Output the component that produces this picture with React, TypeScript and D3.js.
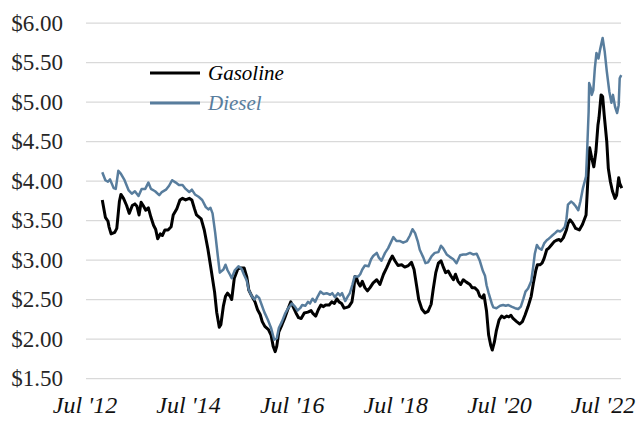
import React from 'react';
import * as d3 from 'd3';

// weekly retail prices, [decimal year, $/gallon]
const gasoline: [number, number][] = [
  [2012.83, 3.76], [2012.89, 3.54], [2012.94, 3.49], [2012.96, 3.42], [2013.0, 3.33], [2013.07, 3.35],
  [2013.11, 3.4], [2013.16, 3.74], [2013.19, 3.83], [2013.24, 3.78], [2013.3, 3.69], [2013.35, 3.59],
  [2013.41, 3.69], [2013.46, 3.71], [2013.5, 3.68], [2013.54, 3.57], [2013.58, 3.73], [2013.62, 3.69],
  [2013.67, 3.63], [2013.72, 3.66], [2013.77, 3.54], [2013.82, 3.44], [2013.86, 3.39], [2013.9, 3.27],
  [2013.95, 3.33], [2013.99, 3.31], [2014.04, 3.38], [2014.1, 3.38], [2014.16, 3.42], [2014.2, 3.57],
  [2014.27, 3.65], [2014.33, 3.76], [2014.38, 3.78], [2014.44, 3.76], [2014.51, 3.78], [2014.56, 3.76],
  [2014.61, 3.65], [2014.65, 3.57], [2014.74, 3.52], [2014.8, 3.38], [2014.87, 3.14], [2014.93, 2.89],
  [2015.0, 2.59], [2015.04, 2.34], [2015.09, 2.15], [2015.12, 2.18], [2015.17, 2.42], [2015.21, 2.54],
  [2015.25, 2.58], [2015.3, 2.54], [2015.33, 2.5], [2015.38, 2.77], [2015.45, 2.89], [2015.51, 2.9],
  [2015.57, 2.9], [2015.62, 2.79], [2015.66, 2.62], [2015.72, 2.54], [2015.78, 2.47], [2015.83, 2.37],
  [2015.88, 2.31], [2015.92, 2.22], [2015.97, 2.16], [2016.04, 2.12], [2016.09, 2.05], [2016.13, 1.91],
  [2016.17, 1.84], [2016.2, 1.91], [2016.24, 2.09], [2016.3, 2.18], [2016.35, 2.26], [2016.41, 2.37],
  [2016.47, 2.47], [2016.52, 2.4], [2016.57, 2.33], [2016.62, 2.27], [2016.67, 2.26], [2016.73, 2.33],
  [2016.8, 2.34], [2016.86, 2.36], [2016.9, 2.32], [2016.95, 2.29], [2017.0, 2.37], [2017.05, 2.43],
  [2017.1, 2.41], [2017.14, 2.43], [2017.21, 2.43], [2017.26, 2.47], [2017.31, 2.45], [2017.36, 2.51],
  [2017.4, 2.47], [2017.45, 2.45], [2017.5, 2.39], [2017.55, 2.4], [2017.59, 2.41], [2017.65, 2.47],
  [2017.68, 2.6], [2017.71, 2.79], [2017.74, 2.77], [2017.77, 2.71], [2017.81, 2.67], [2017.85, 2.73],
  [2017.9, 2.65], [2017.95, 2.61], [2018.0, 2.65], [2018.06, 2.71], [2018.13, 2.75], [2018.19, 2.69],
  [2018.26, 2.82], [2018.32, 2.9], [2018.38, 2.99], [2018.43, 3.05], [2018.48, 2.99], [2018.54, 2.93],
  [2018.61, 2.94], [2018.67, 2.91], [2018.74, 2.93], [2018.8, 2.97], [2018.85, 2.88], [2018.9, 2.67],
  [2018.94, 2.5], [2019.0, 2.38], [2019.06, 2.33], [2019.12, 2.35], [2019.18, 2.44], [2019.22, 2.63],
  [2019.27, 2.84], [2019.32, 2.96], [2019.37, 2.99], [2019.41, 2.92], [2019.46, 2.84], [2019.51, 2.86],
  [2019.56, 2.8], [2019.61, 2.75], [2019.65, 2.82], [2019.7, 2.73], [2019.75, 2.69], [2019.8, 2.75],
  [2019.86, 2.72], [2019.93, 2.69], [2019.97, 2.65], [2020.02, 2.65], [2020.08, 2.61], [2020.12, 2.54],
  [2020.17, 2.52], [2020.2, 2.56], [2020.25, 2.35], [2020.29, 2.05], [2020.33, 1.92], [2020.36, 1.86],
  [2020.4, 1.96], [2020.44, 2.11], [2020.49, 2.24], [2020.54, 2.29], [2020.59, 2.27], [2020.64, 2.29],
  [2020.68, 2.28], [2020.72, 2.3], [2020.76, 2.26], [2020.83, 2.22], [2020.89, 2.19], [2020.94, 2.22],
  [2020.99, 2.3], [2021.05, 2.41], [2021.11, 2.54], [2021.15, 2.7], [2021.2, 2.87], [2021.23, 2.94],
  [2021.28, 2.94], [2021.32, 2.96], [2021.36, 3.02], [2021.41, 3.13], [2021.45, 3.15], [2021.5, 3.19],
  [2021.55, 3.23], [2021.6, 3.25], [2021.65, 3.26], [2021.68, 3.24], [2021.73, 3.28], [2021.79, 3.38],
  [2021.82, 3.46], [2021.86, 3.51], [2021.91, 3.47], [2021.97, 3.4], [2022.04, 3.38], [2022.1, 3.45],
  [2022.17, 3.57], [2022.21, 4.08], [2022.24, 4.42], [2022.28, 4.29], [2022.32, 4.18], [2022.36, 4.37],
  [2022.4, 4.71], [2022.42, 4.8], [2022.46, 5.09], [2022.49, 5.07], [2022.52, 4.84], [2022.57, 4.5],
  [2022.6, 4.16], [2022.64, 3.99], [2022.68, 3.87], [2022.73, 3.78], [2022.76, 3.82], [2022.8, 4.04],
  [2022.82, 3.97], [2022.86, 3.91],
];

const diesel: [number, number][] = [
  [2012.83, 4.11], [2012.89, 4.01], [2012.94, 3.99], [2012.98, 4.02], [2013.05, 3.91], [2013.09, 3.9],
  [2013.14, 4.13], [2013.19, 4.09], [2013.26, 4.01], [2013.34, 3.88], [2013.4, 3.84], [2013.46, 3.87],
  [2013.53, 3.81], [2013.59, 3.9], [2013.66, 3.9], [2013.72, 3.98], [2013.77, 3.9], [2013.85, 3.87],
  [2013.93, 3.82], [2013.98, 3.86], [2014.06, 3.89], [2014.12, 3.94], [2014.18, 4.01], [2014.25, 3.98],
  [2014.31, 3.95], [2014.38, 3.95], [2014.44, 3.9], [2014.51, 3.86], [2014.56, 3.89], [2014.62, 3.83],
  [2014.69, 3.8], [2014.76, 3.76], [2014.83, 3.67], [2014.88, 3.64], [2014.92, 3.66], [2014.96, 3.59],
  [2015.01, 3.35], [2015.06, 3.06], [2015.1, 2.84], [2015.17, 2.88], [2015.21, 2.94], [2015.25, 2.87],
  [2015.3, 2.81], [2015.33, 2.77], [2015.39, 2.87], [2015.46, 2.92], [2015.52, 2.89], [2015.57, 2.81],
  [2015.62, 2.74], [2015.66, 2.62], [2015.72, 2.54], [2015.77, 2.5], [2015.81, 2.55], [2015.86, 2.52],
  [2015.91, 2.43], [2015.96, 2.34], [2016.03, 2.24], [2016.09, 2.14], [2016.15, 1.99], [2016.2, 2.01],
  [2016.24, 2.14], [2016.3, 2.22], [2016.36, 2.32], [2016.42, 2.39], [2016.49, 2.45], [2016.55, 2.41],
  [2016.6, 2.36], [2016.65, 2.39], [2016.69, 2.43], [2016.75, 2.42], [2016.8, 2.47], [2016.84, 2.45],
  [2016.89, 2.51], [2016.94, 2.47], [2016.99, 2.54], [2017.04, 2.6], [2017.1, 2.57], [2017.16, 2.58],
  [2017.23, 2.56], [2017.27, 2.58], [2017.32, 2.53], [2017.38, 2.58], [2017.42, 2.55], [2017.46, 2.58],
  [2017.52, 2.48], [2017.57, 2.54], [2017.61, 2.58], [2017.66, 2.69], [2017.7, 2.79], [2017.74, 2.79],
  [2017.77, 2.79], [2017.81, 2.82], [2017.85, 2.88], [2017.9, 2.93], [2017.97, 2.92], [2018.02, 3.01],
  [2018.06, 3.05], [2018.13, 3.09], [2018.17, 3.03], [2018.22, 2.99], [2018.29, 3.09], [2018.35, 3.15],
  [2018.4, 3.22], [2018.45, 3.29], [2018.51, 3.24], [2018.58, 3.24], [2018.64, 3.22], [2018.71, 3.24],
  [2018.77, 3.31], [2018.82, 3.39], [2018.87, 3.34], [2018.92, 3.24], [2018.96, 3.13], [2019.03, 3.03],
  [2019.07, 2.96], [2019.12, 2.97], [2019.19, 3.05], [2019.25, 3.09], [2019.32, 3.1], [2019.37, 3.18],
  [2019.41, 3.15], [2019.48, 3.07], [2019.54, 3.04], [2019.61, 3.01], [2019.67, 2.96], [2019.74, 3.06],
  [2019.8, 3.07], [2019.86, 3.07], [2019.93, 3.09], [2019.99, 3.07], [2020.06, 3.08], [2020.12, 2.99],
  [2020.18, 2.86], [2020.22, 2.8], [2020.25, 2.68], [2020.29, 2.58], [2020.35, 2.45], [2020.38, 2.4],
  [2020.44, 2.39], [2020.51, 2.42], [2020.57, 2.43], [2020.62, 2.42], [2020.67, 2.43], [2020.73, 2.41],
  [2020.8, 2.39], [2020.86, 2.38], [2020.91, 2.41], [2020.96, 2.51], [2021.0, 2.6], [2021.05, 2.64],
  [2021.11, 2.73], [2021.15, 2.92], [2021.18, 3.08], [2021.22, 3.19], [2021.26, 3.15], [2021.31, 3.13],
  [2021.36, 3.21], [2021.41, 3.25], [2021.45, 3.27], [2021.5, 3.3], [2021.57, 3.34], [2021.62, 3.37],
  [2021.67, 3.36], [2021.71, 3.38], [2021.76, 3.42], [2021.79, 3.51], [2021.82, 3.7], [2021.88, 3.74],
  [2021.92, 3.72], [2021.97, 3.68], [2022.02, 3.63], [2022.06, 3.74], [2022.11, 3.91], [2022.17, 4.06],
  [2022.19, 4.37], [2022.22, 4.88], [2022.23, 5.24], [2022.26, 5.18], [2022.28, 5.09], [2022.31, 5.15],
  [2022.34, 5.43], [2022.37, 5.62], [2022.41, 5.55], [2022.44, 5.66], [2022.46, 5.72], [2022.49, 5.81],
  [2022.53, 5.64], [2022.57, 5.39], [2022.62, 5.13], [2022.66, 4.99], [2022.69, 5.09], [2022.73, 4.94],
  [2022.77, 4.86], [2022.8, 4.96], [2022.82, 5.3], [2022.85, 5.34],
];

const yTicks = [1.5, 2.0, 2.5, 3.0, 3.5, 4.0, 4.5, 5.0, 5.5, 6.0];
const xTickYears = [2012, 2014, 2016, 2018, 2020, 2022];

const series = [
  { name: 'Gasoline', values: gasoline, color: '#000000', width: 3 },
  { name: 'Diesel', values: diesel, color: '#587d9d', width: 2.5 },
];

const toDate = (t: number) => {
  const y = Math.floor(t);
  const start = new Date(y, 0, 1).getTime();
  const end = new Date(y + 1, 0, 1).getTime();
  return new Date(start + (t - y) * (end - start));
};

const W = 637;
const H = 427;
const plot = { left: 86, right: 621, top: 23, bottom: 378.5 };
const FONT = 'Liberation Serif';

export default function App() {
  const x = d3.scaleTime()
    .domain([new Date(2012, 6, 1), toDate(2022.845)])
    .range([85, plot.right]);
  const y = d3.scaleLinear().domain([1.5, 6]).range([plot.bottom, plot.top]);

  const line = d3.line<[number, number]>()
    .x(d => x(toDate(d[0])))
    .y(d => y(d[1]));

  const fmtX = d3.timeFormat("%b '%y");

  return (
    <div style={{ position: 'absolute', left: 0, top: 0 }}>
      <svg width={W} height={H} fontFamily={FONT} style={{ display: 'block', background: '#fff' }}>
        {/* grid */}
        {yTicks.map(t => (
          <line key={t} x1={plot.left} x2={plot.right} y1={y(t)} y2={y(t)} stroke="#d9d9d9" strokeWidth={1.25} />
        ))}
        {/* y labels */}
        {yTicks.map(t => (
          <text key={'l' + t} x={63} y={y(t) + 7.5} textAnchor="end" fill="#262626"
            fontFamily={FONT} fontSize={23}>
            {'$' + t.toFixed(2)}
          </text>
        ))}
        {/* x labels */}
        {xTickYears.map(yr => (
          <text key={yr} x={x(new Date(yr, 6, 1))} y={413} textAnchor="middle" fill="#111"
            fontFamily={FONT} fontSize={24} fontStyle="italic">
            {fmtX(new Date(yr, 6, 1))}
          </text>
        ))}
        {/* lines */}
        {series.map(s => (
          <path key={s.name} d={line(s.values) || ''} fill="none" stroke={s.color} strokeWidth={s.width}
            strokeLinejoin="round" />
        ))}
        {/* legend */}
        {series.map((s, i) => (
          <g key={'lg' + s.name} transform={`translate(150, ${73 + i * 30})`}>
            <line x1={0} x2={50} y1={0} y2={0} stroke={s.color} strokeWidth={3} />
            <text x={58} y={7} fill={s.color} fontFamily={FONT} fontSize={21} fontStyle="italic">
              {s.name}
            </text>
          </g>
        ))}
      </svg>
    </div>
  );
}
